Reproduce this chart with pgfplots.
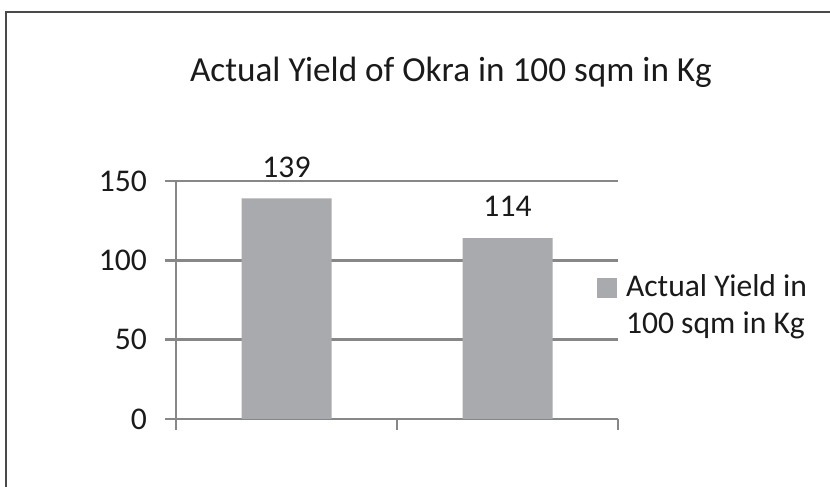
\documentclass[border=0pt]{standalone}
\usepackage{fontspec}
\setmainfont{Carlito}
\usepackage{pgfplots}
\pgfplotsset{compat=1.18}
\definecolor{barc}{HTML}{A9AAAD}
\definecolor{gridc}{HTML}{878787}
\definecolor{framec}{HTML}{4A4A4A}
\definecolor{txtc}{HTML}{1A1A1A}
\pgfplotstableread{
x y
0.5 139
1.5 114
}\yielddata
\begin{document}
\begin{tikzpicture}
\useasboundingbox (0,0) rectangle (415pt,243.5pt);
\draw[framec, line width=1pt] (3pt,0) -- (3pt,237.6pt) -- (415pt,237.6pt);
\node[font=\fontsize{17.6}{20}\selectfont, text=txtc] at (225.5pt,207.5pt) {Actual Yield of Okra in 100 sqm in Kg};
\begin{axis}[
  at={(88pt,34pt)}, anchor=south west,
  width=221pt, height=119pt, scale only axis,
  xmin=0, xmax=2, ymin=0, ymax=150,
  xtick={0,1,2}, xticklabels={},
  ytick={0,50,100,150},
  axis x line*=bottom, axis y line*=left,
  axis line style={gridc, line width=1.3pt},
  ymajorgrids, major grid style={gridc, line width=1.2pt},
  tick style={gridc, line width=1.2pt},
  major tick length=5.5pt, tick align=outside,
  ybar, bar width=45pt,
  /pgf/number format/assume math mode=true,
  yticklabel style={font=\fontsize{15.8}{18}\selectfont, text=txtc, xshift=-5.5pt},
  nodes near coords,
  nodes near coords style={anchor=center, yshift=15.7pt, font=\fontsize{15.8}{18}\selectfont, text=txtc},
  legend style={draw=none, fill=none, inner sep=0pt, outer sep=0pt,
    at={(axis description cs:0.9525,0.605)}, anchor=north west,
    nodes={inner sep=0pt},
    font=\fontsize{15.8}{18.5}\selectfont, text=txtc,
    /tikz/every odd column/.append style={column sep=4.5pt}},
  legend cell align=left,
  legend image code/.code={\fill[barc] (0pt,-5.5pt) rectangle (10pt,4.5pt);},
]
\addplot[fill=barc, draw=none] table[x=x,y=y] {\yielddata};
\addlegendentry{\parbox[t]{100pt}{\fontsize{15.8}{18.5}\selectfont Actual Yield in\\100 sqm in Kg}}
\end{axis}
\end{tikzpicture}
\end{document}
